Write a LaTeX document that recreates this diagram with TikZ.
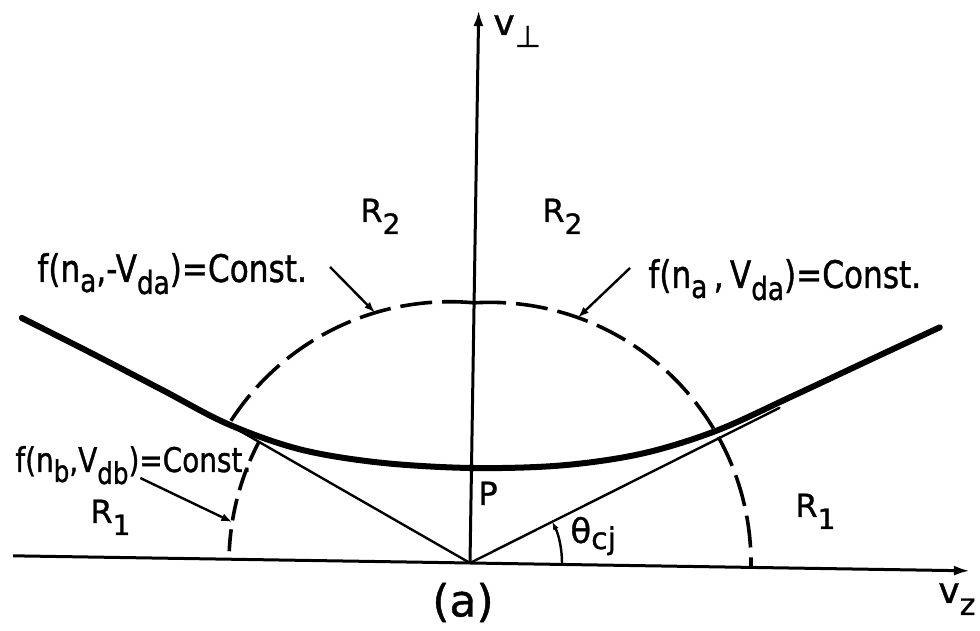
\documentclass[tikz,border=0pt]{standalone}
\usepackage{fontspec}
\setmainfont{DejaVu Sans}[FakeBold=1.0]
\newfontfamily\condfont{DejaVu Sans}[FakeStretch=0.82,FakeBold=1.0]
\usetikzlibrary{arrows.meta}
\newcommand\lsub[3][-4pt]{\raisebox{#1}{\fontsize{#2}{#2}\selectfont #3}}
\begin{document}
\begin{tikzpicture}[x=0.5pt,y=0.5pt,
  axisline/.style={line width=1.5pt,-{Latex[length=8pt,width=5pt]}},
  thinline/.style={line width=1.2pt,line cap=round},
  thickcurve/.style={line width=3pt,line cap=round,line join=round},
  dashedarc/.style={line width=1.8pt,dash pattern=on 16pt off 5pt},
  shortdash/.style={line width=1.8pt,dash pattern=on 11pt off 4.5pt},
  leader/.style={line width=1.2pt,-{Latex[length=5.5pt,width=4pt]}},
  biglabel/.style={font=\condfont\fontsize{19}{19}\selectfont,inner sep=0pt,anchor=base west},
  reglabel/.style={font=\fontsize{16}{16}\selectfont,inner sep=0pt,anchor=base west},
]
\useasboundingbox (0,0) rectangle (980,631);
\begin{scope}[shift={(470,68)},rotate=-0.9]
  % axes
  \coordinate (O) at (0,0);
  \coordinate (zl) at (-457,0);
  \coordinate (zr) at (500,0);
  \coordinate (vt) at (0,553);
  \draw[axisline] (zl) -- (zr);
  \draw[axisline] (O) -- (vt);
  % dashed arcs
  \coordinate (top) at (0,260.2);
  \coordinate (ll) at (-212.6,118.5);
  \draw[dashedarc] (top) arc[start angle=85.6,end angle=148.5,radius=261];
  \draw[dashedarc] (top) arc[start angle=94.4,end angle=0,radius=261];
  \draw[shortdash] (ll) arc[start angle=153,end angle=180,radius=261];
  % tangent lines
  \coordinate (TL) at (-244,135);
  \coordinate (TR) at (307,160);
  \draw[thinline] (O) -- (TL);
  \draw[thinline] (O) -- (TR);
  % thick curve
  \draw[thickcurve] plot[smooth,tension=0.55] coordinates {
    (-452,238) (-380,203) (-310,168) (-244,135) (-172,111) (-92,99) (0,95)
    (90,99) (170,112) (244,136) (320,172) (400,211) (466,243)};
  % point P
  \coordinate (P) at (0,95);
  \fill (P) circle[radius=4];
  % angle arc
  \coordinate (a0) at (92,0);
  \draw[line width=1.2pt,-{Latex[length=4pt,width=3pt]}] (a0) arc[start angle=0,end angle=27.5,radius=92];
  % leaders
  \coordinate (s1) at (-144.6,293.8);
  \coordinate (t1) at (-98.9,248.8);
  \coordinate (s2) at (155.4,297.5);
  \coordinate (t2) at (104.1,247.1);
  \coordinate (s3) at (-331,79.8);
  \coordinate (t3) at (-238.3,37.2);
  \draw[leader] (s1) -- (t1);
  \draw[leader] (s2) -- (t2);
  \draw[leader] (s3) -- (t3);
\end{scope}
% labels
\node[biglabel] (L1) at (37,349) {f(n\lsub[-5pt]{16}{a},-V\lsub[-6pt]{16}{da})=Const.};
\node[biglabel] (L2) at (648,343) {f(n\lsub[-5pt]{16}{a}\,,\,V\lsub[-6pt]{16}{da})=Const.};
\node[biglabel,font=\condfont\fontsize{17}{17}\selectfont] (L3) at (15,159) {f(n\lsub[-5pt]{15}{b},V\lsub[-6pt]{15}{db})=Const.};
\node[reglabel] (R1l) at (90,108) {R\lsub[-6pt]{14}{1}};
\node[reglabel] (R1r) at (795,114) {R\lsub[-6pt]{14}{1}};
\node[reglabel] (R2l) at (360,409) {R\lsub[-6pt]{14}{2}};
\node[reglabel] (R2r) at (542,409) {R\lsub[-6pt]{14}{2}};
\node[reglabel] (Pl) at (478,126) {P};
\node[reglabel,font=\fontsize{17}{17}\selectfont] (th) at (570,88) {θ\lsub[-3pt]{15}{cj}};
\node[font=\fontsize{22}{22}\selectfont,inner sep=0pt] (cap) at (463,28.5) {(a)};
\node[reglabel,font=\fontsize{18}{18}\selectfont] (vz) at (938,28) {v\lsub[-6pt]{15}{z}};
\node[reglabel,font=\fontsize{18}{18}\selectfont] (vp) at (493,596) {v\lsub[-6pt]{15}{⊥}};
\end{tikzpicture}
\end{document}
